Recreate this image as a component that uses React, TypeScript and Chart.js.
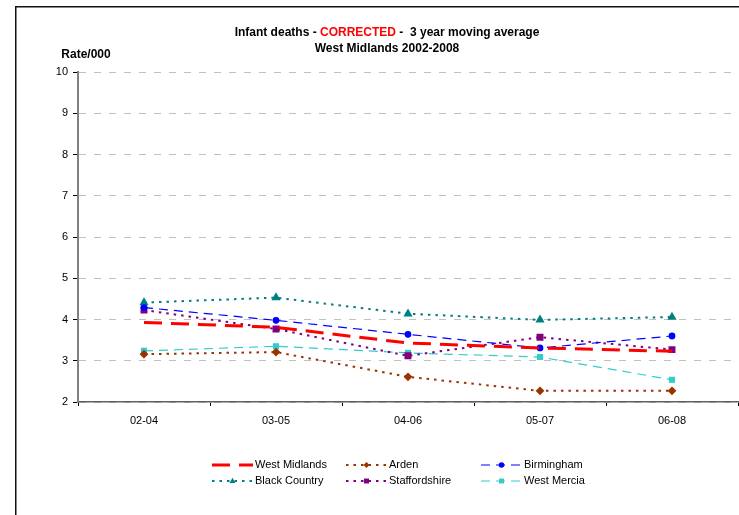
import React, { useEffect, useRef } from "react";
import { Chart, registerables } from "chart.js";

Chart.register(...registerables);

const categories = ["02-04", "03-05", "04-06", "05-07", "06-08"];
const westMidlands = [3.93, 3.81, 3.43, 3.31, 3.23];
const arden = [3.16, 3.21, 2.61, 2.27, 2.27];
const birmingham = [4.29, 3.98, 3.64, 3.31, 3.6];
const blackCountry = [4.41, 4.53, 4.14, 3.99, 4.06];
const staffordshire = [4.23, 3.77, 3.12, 3.57, 3.27];
const westMercia = [3.24, 3.35, 3.19, 3.09, 2.54];
const yMin = 2;
const yMax = 10;
const yStep = 1;

const FONT = "'Liberation Sans', Arial, sans-serif";
const CANVAS_W = 744;
const CANVAS_H = 515;

function drawMarker(ctx: CanvasRenderingContext2D, style: string, x: number, y: number, r: number, color: string) {
  ctx.save();
  ctx.fillStyle = color;
  ctx.strokeStyle = color;
  ctx.setLineDash([]);
  ctx.beginPath();
  if (style === "circle") {
    ctx.arc(x, y, r, 0, Math.PI * 2);
  } else if (style === "rect") {
    const s = r * Math.SQRT1_2;
    ctx.rect(x - s, y - s, s * 2, s * 2);
  } else if (style === "rectRot") {
    ctx.moveTo(x, y - r);
    ctx.lineTo(x + r, y);
    ctx.lineTo(x, y + r);
    ctx.lineTo(x - r, y);
    ctx.closePath();
  } else if (style === "triangle") {
    ctx.moveTo(x, y - r);
    ctx.lineTo(x + r * 0.9, y + r * 0.6);
    ctx.lineTo(x - r * 0.9, y + r * 0.6);
    ctx.closePath();
  }
  ctx.fill();
  ctx.restore();
}

const decorPlugin = {
  id: "decor",
  beforeDraw(chart: any) {
    const ctx = chart.ctx as CanvasRenderingContext2D;
    ctx.save();
    ctx.fillStyle = "#fff";
    ctx.fillRect(0, 0, chart.width, chart.height);
    ctx.fillStyle = "#111";
    ctx.fillRect(15, 6, chart.width - 15, 1.5);
    ctx.fillRect(15, 6, 1.5, chart.height - 6);
    ctx.restore();
  },
  afterDraw(chart: any) {
    const ctx = chart.ctx as CanvasRenderingContext2D;
    ctx.save();
    ctx.font = `bold 12px ${FONT}`;
    ctx.textBaseline = "middle";
    const parts = [
      { t: "Infant deaths - ", c: "#000" },
      { t: "CORRECTED", c: "#FF0000" },
      { t: " -  3 year moving average", c: "#000" },
    ];
    const total = parts.reduce((s, p) => s + ctx.measureText(p.t).width, 0);
    let x = 387 - total / 2;
    ctx.textAlign = "left";
    for (const p of parts) {
      ctx.fillStyle = p.c;
      ctx.fillText(p.t, x, 33);
      x += ctx.measureText(p.t).width;
    }
    ctx.fillStyle = "#000";
    ctx.textAlign = "center";
    ctx.fillText("West Midlands 2002-2008", 387, 49);
    ctx.fillText("Rate/000", 86, 55);

    const cols = [212, 346, 481];
    const rows = [465, 481];
    ctx.font = `11px ${FONT}`;
    ctx.textAlign = "left";
    chart.data.datasets.forEach((ds: any, i: number) => {
      const col = i % 3;
      const row = Math.floor(i / 3);
      const x0 = cols[col];
      const x1 = x0 + 41;
      const y = rows[row];
      ctx.save();
      ctx.strokeStyle = ds.borderColor;
      ctx.lineWidth = ds.borderWidth;
      ctx.setLineDash(ds.borderDash || []);
      ctx.beginPath();
      ctx.moveTo(x0, y);
      ctx.lineTo(x1, y);
      ctx.stroke();
      ctx.restore();
      if (ds.pointRadius > 0) {
        drawMarker(ctx, ds.pointStyle, (x0 + x1) / 2, y, ds.pointRadius, ds.borderColor);
      }
      ctx.fillStyle = "#000";
      ctx.fillText(ds.label, x1 + 2, y);
    });
    ctx.restore();
  },
};

export default function App() {
  const ref = useRef<HTMLCanvasElement | null>(null);

  useEffect(() => {
    document.body.style.margin = "0";
    const canvas = ref.current;
    if (!canvas) return;
    const chart = new Chart(canvas, {
      type: "line",
      data: {
        labels: categories,
        datasets: [
          {
            label: "West Midlands",
            data: westMidlands,
            borderColor: "#FF0000",
            backgroundColor: "#FF0000",
            borderWidth: 3,
            borderDash: [18, 9],
            pointRadius: 0,
            pointStyle: "circle",
            tension: 0,
          },
          {
            label: "Arden",
            data: arden,
            borderColor: "#993300",
            backgroundColor: "#993300",
            pointBackgroundColor: "#993300",
            borderWidth: 2,
            borderDash: [2.5, 5],
            pointRadius: 3,
            pointStyle: "rectRot",
            tension: 0,
          },
          {
            label: "Birmingham",
            data: birmingham,
            borderColor: "#0000FF",
            backgroundColor: "#0000FF",
            pointBackgroundColor: "#0000FF",
            borderWidth: 1.2,
            borderDash: [9, 6],
            pointRadius: 2.8,
            pointStyle: "circle",
            tension: 0,
          },
          {
            label: "Black Country",
            data: blackCountry,
            borderColor: "#008080",
            backgroundColor: "#008080",
            pointBackgroundColor: "#008080",
            borderWidth: 2,
            borderDash: [2.5, 5],
            pointRadius: 3.3,
            pointStyle: "triangle",
            tension: 0,
          },
          {
            label: "Staffordshire",
            data: staffordshire,
            borderColor: "#800080",
            backgroundColor: "#800080",
            pointBackgroundColor: "#800080",
            borderWidth: 2,
            borderDash: [2.5, 5],
            pointRadius: 3.5,
            pointStyle: "rect",
            tension: 0,
          },
          {
            label: "West Mercia",
            data: westMercia,
            borderColor: "#33CCCC",
            backgroundColor: "#33CCCC",
            pointBackgroundColor: "#33CCCC",
            borderWidth: 1.2,
            borderDash: [9, 6],
            pointRadius: 3.5,
            pointStyle: "rect",
            tension: 0,
          },
        ],
      },
      options: {
        animation: false,
        responsive: false,
        maintainAspectRatio: false,
        layout: { padding: { top: 72, right: 1, left: 0, bottom: 0 } },
        plugins: {
          legend: { display: false },
          title: { display: false },
          tooltip: { enabled: false },
        },
        scales: {
          x: {
            type: "category",
            offset: true,
            grid: {
              display: true,
              drawOnChartArea: false,
              drawTicks: true,
              tickLength: 4,
              tickColor: "#000",
              offset: true,
            },
            border: { display: true, color: "#606060", width: 1.5 },
            ticks: {
              color: "#000",
              font: { family: FONT, size: 11 },
              padding: 8,
              maxRotation: 0,
            },
            afterFit(scale: any) {
              scale.height = 113;
            },
          },
          y: {
            min: yMin,
            max: yMax,
            grid: {
              color: "#C0C0C0",
              lineWidth: 1,
              drawTicks: true,
              tickLength: 5,
              tickColor: "#000",
              tickBorderDash: [],
            },
            border: { display: true, color: "#808080", width: 2, dash: [7, 8] },
            ticks: {
              stepSize: yStep,
              color: "#000",
              font: { family: FONT, size: 11 },
              padding: 5,
            },
            afterFit(scale: any) {
              scale.width = 78;
            },
          },
        },
      },
      plugins: [decorPlugin],
    } as any);
    return () => chart.destroy();
  }, []);

  return (
    <div style={{ position: "absolute", left: 0, top: 0, width: 739, height: 515, overflow: "hidden" }}>
      <canvas ref={ref} width={CANVAS_W} height={CANVAS_H} style={{ display: "block" }} />
    </div>
  );
}
